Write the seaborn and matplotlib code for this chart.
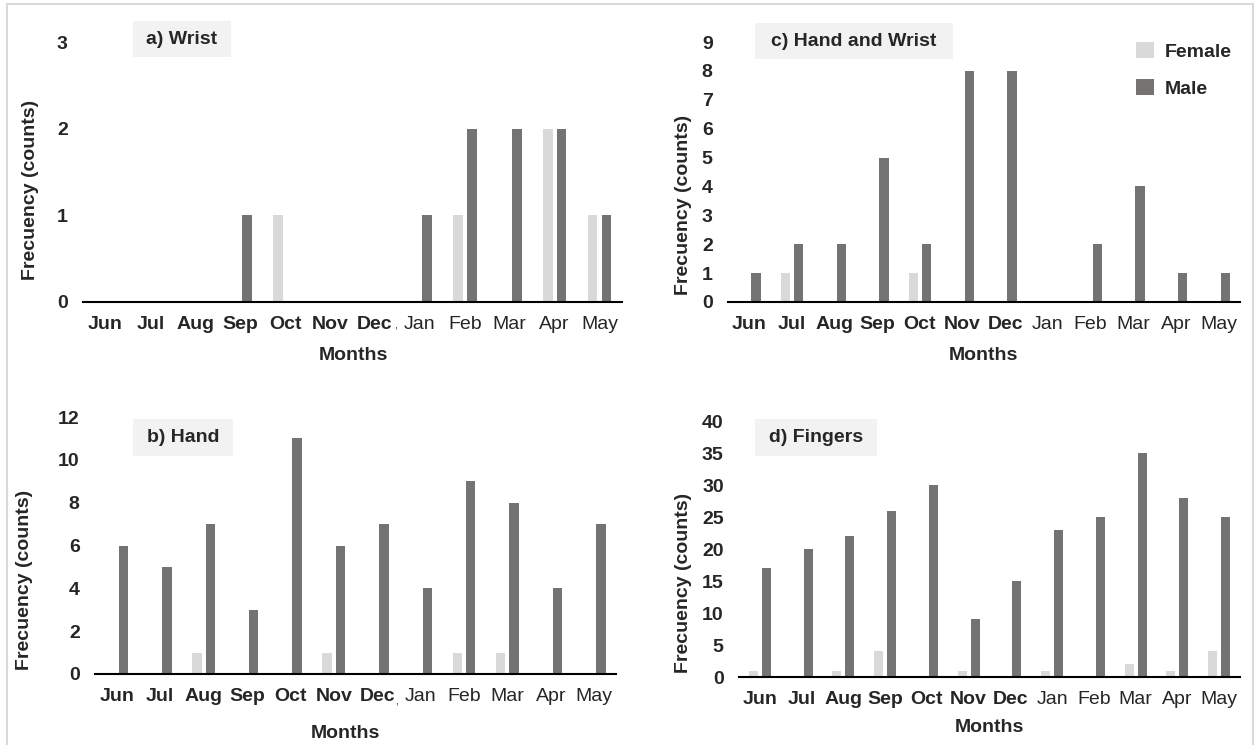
import pandas as pd
import matplotlib.pyplot as plt
import seaborn as sns
from matplotlib.patches import Rectangle

months = ['Jun', 'Jul', 'Aug', 'Sep', 'Oct', 'Nov', 'Dec',
          'Jan', 'Feb', 'Mar', 'Apr', 'May']
sexes = ['Female', 'Male']

wrist_female = [0, 0, 0, 0, 1, 0, 0, 0, 1, 0, 2, 1]
wrist_male = [0, 0, 0, 1, 0, 0, 0, 1, 2, 2, 2, 1]
hand_female = [0, 0, 1, 0, 0, 1, 0, 0, 1, 1, 0, 0]
hand_male = [6, 5, 7, 3, 11, 6, 7, 4, 9, 8, 4, 7]
handwrist_female = [0, 1, 0, 0, 1, 0, 0, 0, 0, 0, 0, 0]
handwrist_male = [1, 2, 2, 5, 2, 8, 8, 0, 2, 4, 1, 1]
fingers_female = [1, 0, 1, 4, 0, 1, 0, 1, 0, 2, 1, 4]
fingers_male = [17, 20, 22, 26, 30, 9, 15, 23, 25, 35, 28, 25]

W, H = 1257, 745
colors = {'Female': '#d9d9d9', 'Male': '#767171'}
FS = 14

sns.set_style("white")
plt.rcParams['font.family'] = ['Liberation Sans', 'DejaVu Sans']

fig = plt.figure(figsize=(W / 100, H / 100), dpi=100)

# title, female, male, ymax, step, axes box px (l, t, r, b), title box px, ylabel px, xlabel px
panels = [
    ('a) Wrist', wrist_female, wrist_male, 3, 1,
     (83, 42, 622, 302), (133, 21, 231, 57), (31, 190), (353, 355)),
    ('c) Hand and Wrist', handwrist_female, handwrist_male, 9, 1,
     (728, 42, 1240, 302), (755, 23, 953, 59), (683, 205), (983, 355)),
    ('b) Hand', hand_female, hand_male, 12, 2,
     (95, 417, 616, 674), (133, 419, 233, 456), (25, 580), (345, 733)),
    ('d) Fingers', fingers_female, fingers_male, 40, 5,
     (739, 421, 1240, 677), (755, 419, 877, 456), (683, 583), (989, 728)),
]

for i, (title, fem, mal, ymax, step, box, tbox, ylab, xlab) in enumerate(panels):
    l, t, r, b = box
    ax = fig.add_axes([l / W, 1 - b / H, (r - l) / W, (b - t) / H])
    ax.set_facecolor('none')
    df = pd.DataFrame({
        'month': months * 2,
        'sex': ['Female'] * 12 + ['Male'] * 12,
        'count': fem + mal,
    })
    sns.barplot(data=df, x='month', y='count', hue='sex', order=months,
                hue_order=sexes, palette=colors, width=0.62, gap=0.3,
                linewidth=0, ax=ax, legend=(title.startswith('c)')))
    ax.set_xlim(-0.5, 11.5)
    ax.set_ylim(0, ymax)
    ax.set_yticks(range(0, ymax + 1, step))
    for s in ['top', 'right', 'left']:
        ax.spines[s].set_visible(False)
    ax.spines['bottom'].set_color('black')
    ax.spines['bottom'].set_linewidth(1.5)
    ax.tick_params(axis='y', length=0, pad=11, labelsize=FS)
    ax.tick_params(axis='x', length=0, pad=10, labelsize=FS)
    for lab in ax.get_yticklabels():
        lab.set_fontweight('bold')
    for k, lab in enumerate(ax.get_xticklabels()):
        lab.set_fontweight('bold' if k < 7 else 'normal')
    if title.startswith('c)'):
        ax.set_xticks([x + 0.5 for x in range(-1, 12)], minor=True)
        ax.tick_params(axis='x', which='minor', length=5, width=1.2,
                       direction='out', color='black')
    ax.set_xlabel('Months', fontsize=FS, fontweight='bold')
    ax.xaxis.set_label_coords((xlab[0] - l) / (r - l), (b - xlab[1]) / (b - t))
    ax.set_ylabel('Frecuency (counts)', fontsize=FS, fontweight='bold')
    ax.yaxis.set_label_coords((ylab[0] - l) / (r - l), (b - ylab[1]) / (b - t))
    ax.xaxis.label.set_va('center')
    ax.yaxis.label.set_va('center')

    # title box
    tl, tt, tr, tb = tbox
    fig.add_artist(Rectangle((tl / W, 1 - tb / H), (tr - tl) / W, (tb - tt) / H,
                             transform=fig.transFigure, facecolor='#f2f2f2',
                             edgecolor='none', zorder=-1))
    fig.text((tl + tr) / 2 / W, 1 - (tt + tb) / 2 / H, title, ha='center',
             va='center', fontsize=FS, fontweight='bold')

    if title.startswith('c)'):
        ax.legend(loc='upper left', bbox_to_anchor=(1136 / W, 1 - 42 / H),
                  bbox_transform=fig.transFigure, frameon=False,
                  borderpad=0, borderaxespad=0, handlelength=0.9,
                  handleheight=0.9, handletextpad=0.6, labelspacing=0.95,
                  prop={'weight': 'bold', 'size': FS}, title=None)

# stray separators after Dec in a) and b)
fig.text(396 / W, 1 - 326 / H, ',', ha='center', va='center', fontsize=8)
fig.text(397 / W, 1 - 701 / H, ',', ha='center', va='center', fontsize=8)

# outer frame
fig.add_artist(Rectangle((7 / W, -0.01), (1253 - 7) / W, 1.01 - 4 / H,
                         transform=fig.transFigure, fill=False,
                         edgecolor='#d9d9d9', linewidth=1.5))

plt.savefig('out.png', dpi=100)
